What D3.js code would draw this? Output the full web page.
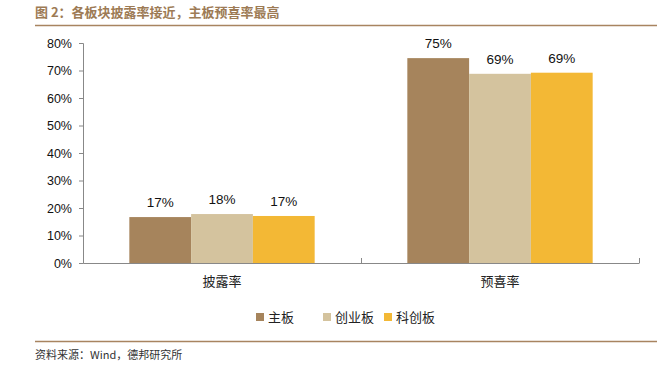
<!DOCTYPE html>
<html>
<head>
<meta charset="utf-8">
<script src="https://cdn.jsdelivr.net/npm/d3@7"></script>
<style>
  body { margin: 0; background: #fff; }
  svg { display: block; }
</style>
</head>
<body>
<script>
  var categories = ['披露率', '预喜率'];
  var seriesNames = ['主板', '创业板', '科创板'];
  var seriesColors = ['#a6845c', '#d4c39e', '#f3b835'];
  // values per series, in category order
  var mainBoard = [0.167, 0.745];
  var chiNext = [0.178, 0.688];
  var starMarket = [0.171, 0.692];
  var valueLabels = [['17%', '75%'], ['18%', '69%'], ['17%', '69%']];
  var yTicks = [0, 0.1, 0.2, 0.3, 0.4, 0.5, 0.6, 0.7, 0.8];

(function() {
  var series = [mainBoard, chiNext, starMarket];
  var w = 657;
  var h = 369;
  var cnFont = '"Noto Sans CJK SC", sans-serif';
  var latin = '"Liberation Sans", Arial, sans-serif';

  var svg = d3.select('body').append('svg').attr('width', w).attr('height', h);

  // title + rule
  svg.append('text')
    .attr('x', 35).attr('y', 17)
    .attr('font-family', cnFont).attr('font-weight', 'bold')
    .attr('font-size', '13px').attr('fill', '#9d7b55')
    .text('图 2：各板块披露率接近，主板预喜率最高');
  svg.append('line')
    .attr('x1', 35).attr('x2', w).attr('y1', 25.5).attr('y2', 25.5)
    .attr('stroke', '#a88460').attr('stroke-width', 1.5);

  var plotLeft = 83, plotRight = 639, plotTop = 43, plotBottom = 263;

  var x0 = d3.scaleBand().domain(categories).range([plotLeft, plotRight]).paddingInner(0).paddingOuter(0);
  var x1 = d3.scaleBand().domain(d3.range(series.length)).range([0, x0.bandwidth()]).paddingOuter(0.75).paddingInner(0);
  var y = d3.scaleLinear().domain([0, 0.8]).range([plotBottom, plotTop]);

  // y axis
  var yAxis = svg.append('g')
    .attr('transform', 'translate(' + plotLeft + ',0)')
    .call(d3.axisLeft(y).tickValues(yTicks).tickFormat(d3.format('.0%')).tickSizeOuter(0).tickSize(4));
  yAxis.select('.domain').attr('stroke', '#888');
  yAxis.selectAll('.tick line').attr('stroke', '#888');
  yAxis.selectAll('.tick text').attr('font-family', latin).attr('font-size', '12.5px').attr('fill', '#111').attr('x', -11);

  // bars
  var groups = svg.selectAll('g.series')
    .data(series)
    .enter()
    .append('g')
    .attr('class', 'series')
    .attr('fill', (d, i) => seriesColors[i]);

  groups.each(function(vals, si) {
    var g = d3.select(this);
    g.selectAll('rect')
      .data(vals)
      .enter()
      .append('rect')
      .attr('x', (d, ci) => x0(categories[ci]) + x1(si))
      .attr('y', d => y(d))
      .attr('width', x1.bandwidth())
      .attr('height', d => plotBottom - y(d));
    g.selectAll('text')
      .data(vals)
      .enter()
      .append('text')
      .attr('x', (d, ci) => x0(categories[ci]) + x1(si) + x1.bandwidth() / 2)
      .attr('y', d => y(d) - 10)
      .attr('text-anchor', 'middle')
      .attr('font-family', latin).attr('font-size', '13.5px').attr('fill', '#111')
      .text((d, ci) => valueLabels[si][ci]);
  });

  // x axis
  var xAxis = svg.append('g')
    .attr('transform', 'translate(0,' + plotBottom + ')')
    .call(d3.axisBottom(x0).tickSize(0).tickSizeOuter(0));
  xAxis.select('.domain').attr('stroke', '#888');
  xAxis.selectAll('.tick text')
    .attr('font-family', cnFont).attr('font-size', '13px').attr('fill', '#222').attr('y', 14);
  // inward ticks at category boundaries
  svg.selectAll('line.xdiv')
    .data(categories.slice(1).map(c => x0(c)).concat([plotRight]))
    .enter()
    .append('line')
    .attr('class', 'xdiv')
    .attr('x1', d => d + 0.5).attr('x2', d => d + 0.5)
    .attr('y1', plotBottom - 5).attr('y2', plotBottom)
    .attr('stroke', '#888');

  // legend
  var legendX = [256, 323, 384];
  var legend = svg.selectAll('g.legend')
    .data(seriesNames)
    .enter()
    .append('g')
    .attr('class', 'legend')
    .attr('transform', (d, i) => 'translate(' + legendX[i] + ',317)');
  legend.append('rect')
    .attr('x', 0).attr('y', -4).attr('width', 8).attr('height', 8)
    .attr('fill', (d, i) => seriesColors[i]);
  legend.append('text')
    .attr('x', 12).attr('y', 5)
    .attr('font-family', cnFont).attr('font-size', '13px').attr('fill', '#222')
    .text(d => d);

  // source
  svg.append('line')
    .attr('x1', 35).attr('x2', w).attr('y1', 341.5).attr('y2', 341.5)
    .attr('stroke', '#a88460').attr('stroke-width', 1.5);
  svg.append('text')
    .attr('x', 35).attr('y', 359)
    .attr('font-family', cnFont).attr('font-size', '11px').attr('fill', '#333')
    .text('资料来源：Wind，德邦研究所');
})();
</script>
</body>
</html>
